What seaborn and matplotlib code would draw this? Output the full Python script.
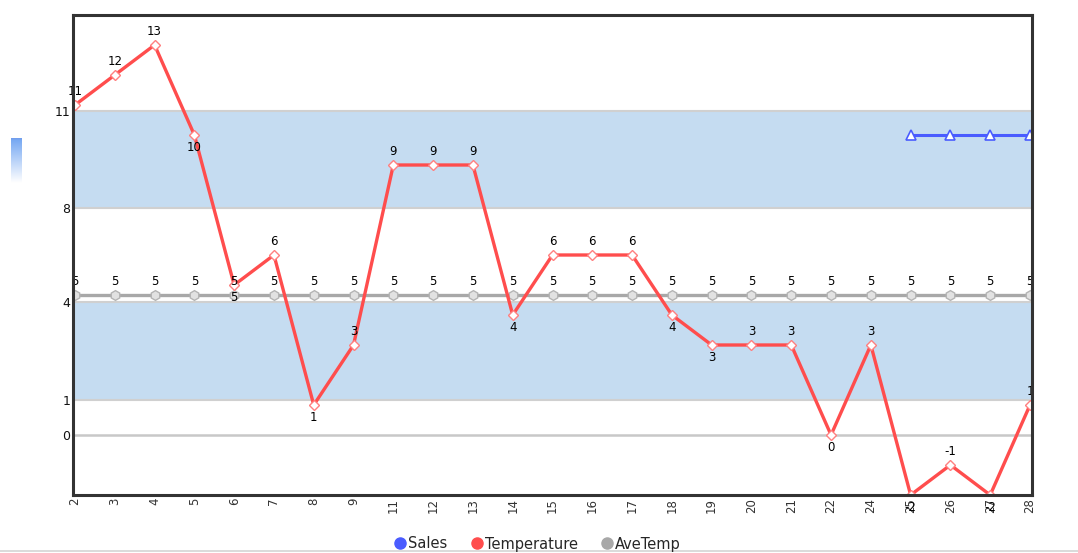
import numpy as np
import pandas as pd
import matplotlib
matplotlib.use("Agg")
import matplotlib.pyplot as plt
from matplotlib.lines import Line2D
import seaborn as sns

# ---- data ----
days = ["2", "3", "4", "5", "6", "7", "8", "9", "11", "12", "13", "14", "15",
        "16", "17", "18", "19", "20", "21", "22", "24", "25", "26", "27", "28"]
temperature = [11, 12, 13, 10, 5, 6, 1, 3, 9, 9, 9, 4, 6, 6, 6, 4, 3, 3, 3, 0,
               3, -2, -1, -2, 1]
ave_temp = [4.67] * len(days)
sales = [np.nan] * 21 + [10, 10, 10, 10]

# shaded ranges on the value axis and their labels
band_ranges = [(1.17, 4.43), (7.57, 10.8)]
ytick_values = [0, 1.17, 4.43, 7.57, 10.8]
ytick_labels = ["0", "1", "4", "8", "11"]

sns.set_theme(style="white")
plt.rcParams["font.family"] = ["DejaVu Sans"]

W, H = 1078, 553
fig = plt.figure(figsize=(W / 100, H / 100), dpi=100)
ax = fig.add_axes([73 / W, 1 - 495 / H, (1032 - 73) / W, (495 - 15) / H])

df = pd.DataFrame({"idx": np.arange(len(days)), "day": days,
                   "Temperature": temperature, "AveTemp": ave_temp,
                   "Sales": sales})

# background bands and zero line
for lo, hi in band_ranges:
    ax.axhspan(lo, hi, color="#c5dcf1", lw=0, zorder=0)
    for edge in (lo, hi):
        ax.axhline(edge, color="#d0d0d0", lw=1.5, zorder=0.5)
ax.axhline(0, color="#c8c8c8", lw=1.8, zorder=0.5)

red = "#ff4d4d"
grey = "#a8a8a8"
blue = "#4a5cff"

sns.lineplot(data=df, x="idx", y="AveTemp", ax=ax, color=grey, lw=2.4,
             marker="h", markersize=7, markerfacecolor="#e2e2e2",
             markeredgecolor="#b5b5b5", markeredgewidth=1.0, zorder=3)
sns.lineplot(data=df, x="idx", y="Temperature", ax=ax, color=red, lw=2.4,
             marker="D", markersize=5.5, markerfacecolor="white",
             markeredgecolor="#ff8080", markeredgewidth=1.0, zorder=4)
sns.lineplot(data=df.dropna(subset=["Sales"]), x="idx", y="Sales", ax=ax,
             color=blue, lw=2.2, marker="^", markersize=6.5,
             markerfacecolor="white", markeredgecolor=blue,
             markeredgewidth=1.2, zorder=4)

# value labels
for i, v in enumerate(ave_temp):
    ax.annotate(f"{v:.0f}", (i, v), xytext=(0, 5), textcoords="offset points",
                ha="center", va="bottom", fontsize=8.5, color="black",
                zorder=5, annotation_clip=False)
for i, v in enumerate(temperature):
    below = i > 0 and v < temperature[i - 1]
    ax.annotate(f"{v}", (i, v), xytext=(0, -4.5 if below else 5),
                textcoords="offset points", ha="center",
                va="top" if below else "bottom", fontsize=8.5,
                color="black", zorder=5, annotation_clip=False)

ax.set_xlim(-0.05, len(days) - 1 + 0.05)
ax.set_ylim(-2, 14)
ax.set_xticks(df["idx"])
ax.set_xticklabels(days, rotation=90, fontsize=8.5, color="#333333")
ax.set_yticks(ytick_values)
ax.set_yticklabels(ytick_labels, fontsize=9, color="#111111")
ax.tick_params(axis="both", length=0, pad=2)
ax.set_xlabel("")
ax.set_ylabel("")
for s in ax.spines.values():
    s.set_visible(True)
    s.set_color("#333333")
    s.set_linewidth(2.2)
    s.set_zorder(6)

# legend
handles = [Line2D([], [], ls="none", marker="o", ms=8, color=c, mec=c)
           for c in (blue, red, grey)]
fig.legend(handles, ["Sales", "Temperature", "AveTemp"], loc="center",
           bbox_to_anchor=(537 / W, 1 - 544 / H), ncol=3, frameon=False,
           fontsize=10.5, handletextpad=0.05, columnspacing=1.5,
           handlelength=1.0, borderpad=0.1)

# footer rule
fig.add_artist(Line2D([0, 1], [1 - 550.5 / H] * 2, color="#d4d4d4", lw=1.2))

# small gradient swatch at the left edge
gax = fig.add_axes([11 / W, 1 - 183 / H, 11 / W, 45 / H])
grad = np.linspace(0, 1, 64)[:, None]
top = np.array([0.45, 0.65, 0.95])
cols = top[None, None, :] * (1 - grad[..., None]) + grad[..., None]
cols[0:2] = np.array([0.45, 0.62, 0.93])
gax.imshow(cols, aspect="auto")
gax.axis("off")

fig.savefig("out.png", dpi=100)
